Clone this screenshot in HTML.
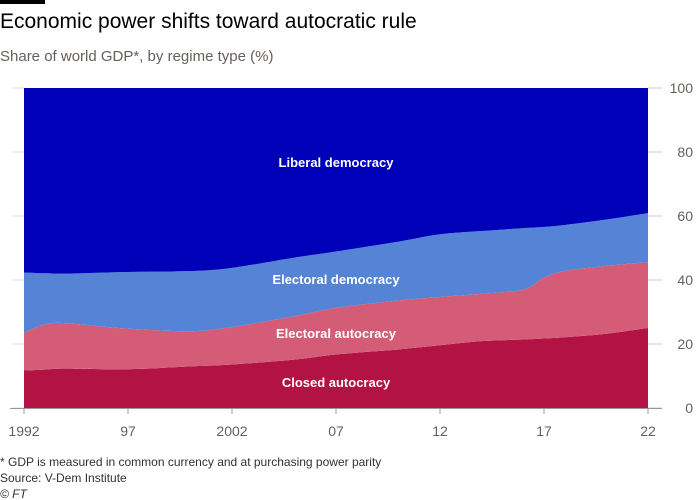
<!DOCTYPE html>
<html><head><meta charset="utf-8"><style>
body{margin:0;background:#fff;font-family:"Liberation Sans",sans-serif;}
#w{position:relative;width:700px;height:500px;overflow:hidden;background:#fff}
.t{position:absolute;left:0;white-space:nowrap}
</style></head><body>
<div id="w">
<div style="position:absolute;left:0;top:0;width:45px;height:4px;background:#000"></div>
<div class="t" style="top:10px;font-size:21px;color:#000">Economic power shifts toward autocratic rule</div>
<div class="t" style="top:48px;font-size:15px;color:#66605c">Share of world GDP*, by regime type (%)</div>
<svg id="c" width="700" height="500" style="position:absolute;left:0;top:0"></svg>
<div class="t" style="top:455px;font-size:12px;color:#33302e">* GDP is measured in common currency and at purchasing power parity</div>
<div class="t" style="top:471px;font-size:12px;color:#33302e">Source: V-Dem Institute</div>
<div class="t" style="top:487px;font-size:12px;color:#33302e;font-style:italic">© FT</div>
</div>
<script>
const years=[1992,1993,1994,1997,2000,2002,2005,2007,2010,2012,2014,2016,2017,2018,2020,2022];
const closedAutocracy=[11.7,12.0,12.3,12.1,13,13.6,15.1,16.7,18.3,19.6,20.9,21.4,21.7,22.1,23.2,25];
const electoralAutocracy=[11.8,14.1,14.2,12.7,11,11.7,13.6,14.6,15.3,15.1,14.8,15.6,19,20.7,21.2,20.6];
const electoralDemocracy=[18.8,16.0,15.5,17.7,18.8,18.5,18.3,17.6,18.4,19.6,19.6,19.2,15.9,14.4,14.5,15.3];
const liberalDemocracy=[57.7,57.9,58,57.5,57.2,56.2,53,51.1,48,45.7,44.7,43.8,43.4,42.8,41.1,39.1];
const yTicks=[0,20,40,60,80,100];
const xTicks=[1992,1997,2002,2007,2012,2017,2022];
const xTickLabels=["1992","97","2002","07","12","17","22"];
const seriesNames=["Closed autocracy","Electoral autocracy","Electoral democracy","Liberal democracy"];
const colors=["#b31245","#d55c77","#5584d6","#0000b8"];
const svg=document.getElementById('c');const NS="http://www.w3.org/2000/svg";
const X=y=>24+(y-1992)*(624/30), Y=v=>408-v*3.2;
function mk(t,a){const e=document.createElementNS(NS,t);for(const k in a)e.setAttribute(k,a[k]);svg.appendChild(e);return e;}
function spline(pts){let d=`M${pts[0][0]},${pts[0][1]}`;for(let i=0;i<pts.length-1;i++){const p0=pts[Math.max(0,i-1)],p1=pts[i],p2=pts[i+1],p3=pts[Math.min(pts.length-1,i+2)];
d+=` C${p1[0]+(p2[0]-p0[0])/6},${p1[1]+(p2[1]-p0[1])/6} ${p2[0]-(p3[0]-p1[0])/6},${p2[1]-(p3[1]-p1[1])/6} ${p2[0]},${p2[1]}`;}return d;}
const series=[closedAutocracy,electoralAutocracy,electoralDemocracy,liberalDemocracy];
let base=years.map(()=>0);
series.forEach((s,k)=>{const top=base.map((b,i)=>b+s[i]);
 const tp=years.map((y,i)=>[X(y),Y(top[i])]);const bp=years.map((y,i)=>[X(y),Y(base[i])]).reverse();
 const d=spline(tp)+" L"+spline(bp).slice(1)+" Z";
 const p=mk('path',{d:d,fill:colors[k]});
 
 
 base=top;});
yTicks.forEach(v=>{const l=mk('line',{x1:648,x2:662,y1:Y(v),y2:Y(v),stroke:'#ccc','stroke-width':1});
 
 const l2=mk('line',{x1:12,x2:24,y1:Y(v),y2:Y(v),stroke:'#ddd','stroke-width':1});
 
 const t=mk('text',{x:693,y:Y(v)+5,'text-anchor':'end','font-size':14,fill:'#66605c'});t.textContent=v;
 });
const bl=mk('line',{x1:10,x2:662,y1:408.5,y2:408.5,stroke:'#999','stroke-width':1});

xTicks.forEach((y,i)=>{const l=mk('line',{x1:X(y),x2:X(y),y1:408,y2:414,stroke:'#999'});
 
 const t=mk('text',{x:X(y),y:436,'text-anchor':'middle','font-size':14,fill:'#66605c'});t.textContent=xTickLabels[i];
 });
const labels=[["Closed autocracy",387],["Electoral autocracy",338],["Electoral democracy",284],["Liberal democracy",167]];
labels.forEach(([s,y])=>{const t=mk('text',{x:336,y:y,'text-anchor':'middle','font-size':13,'font-weight':'bold',fill:'#fff'});t.textContent=s;
 });
</script>
</body></html>
